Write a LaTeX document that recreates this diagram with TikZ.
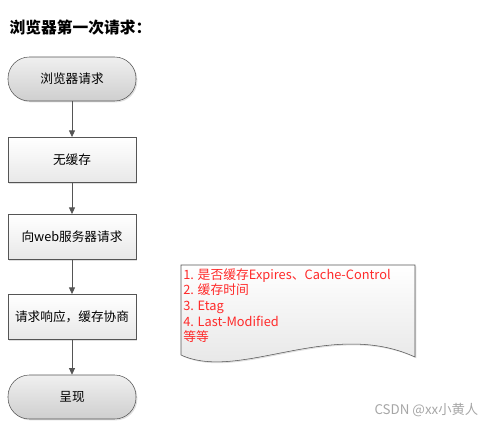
\documentclass[tikz,border=0pt]{standalone}
\usepackage{fontspec}
\setmainfont{Noto Sans CJK SC}
\usepackage{xcolor}
\usepackage{tikz}
\usetikzlibrary{arrows.meta,shadows}
\definecolor{notered}{HTML}{FF2A2A}
\definecolor{edgegray}{HTML}{555555}

\begin{document}
\begin{tikzpicture}[
    x=0.75pt, y=-0.75pt,
    term/.style={rectangle, draw=edgegray, rounded corners=16pt, top color=gray!12, bottom color=gray!38,
        minimum width=96pt, minimum height=33pt, font=\fontsize{9.5}{11}\selectfont,
        drop shadow={shadow xshift=1pt, shadow yshift=-1pt, opacity=0.25}},
    block/.style={rectangle, draw=edgegray, top color=white, bottom color=gray!18,
        minimum width=96pt, minimum height=34pt, font=\fontsize{9.5}{11}\selectfont,
        drop shadow={shadow xshift=1pt, shadow yshift=-1pt, opacity=0.25}},
    arrow/.style={-{Triangle[length=5pt,width=4.5pt]}, draw=edgegray, fill=edgegray, line width=0.6pt}
]
    \useasboundingbox (0,0) rectangle (498,428);

    \node[anchor=west, font=\fontsize{11.8}{13}\selectfont\bfseries] (title) at (5,28) {浏览器第一次请求：};

    \node[term] (start) at (72,79) {浏览器请求};
    \node[block] (nocache) at (72,160) {无缓存};
    \node[block] (ask) at (72,237) {向web服务器请求};
    \node[block] (reply) at (72,317) {请求响应，缓存协商};
    \node[term] (show) at (72,397) {呈现};

    \draw[arrow] (start) -- (nocache);
    \draw[arrow] (nocache) -- (ask);
    \draw[arrow] (ask) -- (reply);
    \draw[arrow] (reply) -- (show);

    % note sheet with wavy bottom
    \draw[edgegray, top color=white, bottom color=gray!22,
        drop shadow={shadow xshift=1pt, shadow yshift=-1pt, opacity=0.25}]
        (181,265) -- (415,265) -- (415,357)
        .. controls (330,318) and (240,382) .. (181,355) -- cycle;
    \node[anchor=north west, align=left, text=notered, inner sep=0pt,
        font=\fontsize{9.6}{11.8}\selectfont] (note) at (183,268)
        {1. 是否缓存Expires、Cache-Control\\2. 缓存时间\\3. Etag\\4. Last-Modified\\等等};

    \node[anchor=east, text=gray!70, font=\fontsize{10}{12}\selectfont] (mark) at (483,410) {CSDN @xx小黄人};
\end{tikzpicture}
\end{document}
